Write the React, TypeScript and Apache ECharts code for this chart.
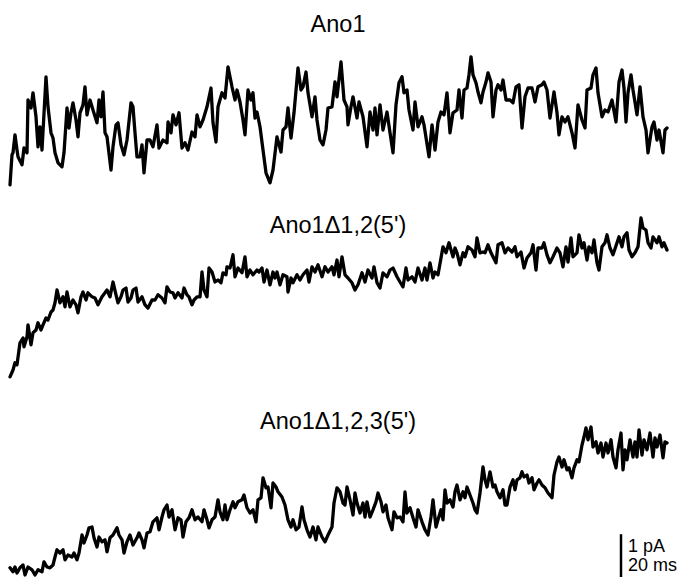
import React, { useEffect, useRef } from "react";
import * as echarts from "echarts";

// Titles of the three recordings
const traceTitles = ["Ano1", "Ano1\u03941,2(5')", "Ano1\u03941,2,3(5')"];

// Scale bar labels
const scaleLabels = ["1 pA", "20 ms"];

// Ano1 trace: [time (ms), current (pA)]
const ano1: number[][] = [
  [0,0.13],[2,0.88],[3,0.93],[5,1.38],[7,1.0],[8,0.83],[12,0.63],[14,1.05],[17,0.93],[18,2.25],
  [21,2.05],[23,2.43],[26,1.83],[28,1.08],[30,1.58],[32,1.0],[36,2.83],[38,2.08],[41,1.43],[43,1.3],
  [45,0.93],[48,0.68],[52,0.58],[54,0.93],[57,2.05],[59,1.55],[61,1.93],[63,2.18],[66,1.75],[68,1.33],
  [70,1.93],[73,2.13],[75,2.58],[77,1.88],[80,2.25],[83,2.0],[87,1.68],[89,2.25],[91,1.83],[93,2.45],
  [95,1.43],[97,1.33],[101,0.5],[103,1.08],[106,1.63],[108,1.68],[111,1.13],[114,0.88],[117,1.25],[121,2.18],
  [123,2.08],[125,1.43],[127,0.83],[130,0.83],[132,1.13],[134,0.43],[137,1.25],[140,1.25],[143,1.08],[147,1.63],
  [149,1.05],[153,1.25],[157,1.18],[158,1.7],[161,1.43],[163,1.88],[166,1.63],[169,1.93],[172,1.05],[175,1.18],
  [178,1.0],[182,1.45],[185,1.33],[187,1.88],[190,1.58],[193,1.75],[197,2.08],[201,2.55],[203,1.68],[206,1.2],
  [208,2.08],[212,2.43],[215,2.3],[218,3.08],[222,2.58],[225,2.25],[227,2.5],[230,2.2],[233,1.75],[235,1.38],
  [238,2.5],[241,2.25],[243,2.43],[245,1.8],[247,1.95],[250,1.58],[253,1.0],[256,0.43],[260,0.18],[263,0.5],
  [267,1.33],[271,0.95],[273,1.5],[276,1.58],[278,2.05],[281,1.3],[284,1.93],[288,3.05],[291,2.5],[293,2.58],
  [296,2.95],[298,2.43],[302,1.83],[305,2.33],[307,1.75],[310,1.25],[313,1.13],[316,1.5],[318,2.05],[322,2.08],
  [325,2.7],[327,2.33],[331,3.2],[334,2.25],[337,2.08],[338,1.63],[341,2.08],[343,2.33],[347,1.8],[349,2.2],
  [353,1.83],[357,1.08],[360,1.95],[363,1.5],[365,2.05],[367,1.38],[370,2.13],[373,1.5],[377,1.95],[380,1.43],
  [383,0.93],[386,2.13],[389,2.68],[392,2.83],[394,2.43],[397,2.5],[399,2.0],[403,1.5],[405,2.2],[408,1.58],
  [412,1.83],[414,1.63],[419,0.83],[422,1.63],[425,1.0],[428,1.7],[431,1.95],[434,1.88],[437,2.43],[440,1.43],
  [443,1.93],[447,2.0],[449,2.5],[452,1.8],[454,2.5],[457,2.55],[459,2.88],[461,3.33],[463,2.88],[466,2.68],
  [468,2.45],[471,2.18],[473,2.45],[476,2.7],[478,2.93],[481,2.7],[483,1.83],[486,2.5],[488,2.63],[491,2.5],
  [493,2.75],[496,2.25],[500,2.25],[503,2.18],[506,2.58],[509,2.63],[512,1.55],[515,2.33],[518,2.55],[522,2.55],
  [525,2.2],[528,2.58],[532,2.63],[534,2.7],[537,2.5],[540,1.8],[544,2.45],[547,1.93],[549,1.38],[552,1.83],
  [555,1.7],[558,1.83],[562,1.43],[565,1.05],[568,2.13],[572,1.75],[575,1.55],[577,2.5],[581,2.55],[583,2.88],
  [586,3.05],[588,2.43],[592,1.83],[595,2.0],[598,1.95],[602,2.25],[606,1.7],[609,2.7],[612,3.0],[614,2.55],
  [616,1.7],[618,2.43],[621,2.88],[623,2.5],[627,1.88],[630,2.58],[633,1.83],[636,1.5],[638,0.93],[642,1.58],
  [644,1.7],[647,1.25],[649,1.5],[653,0.93],[655,1.5],[657,1.55]
];

// Ano1Δ1,2(5') trace
const ano1d12: number[][] = [
  [0,0.33],[3,0.5],[5,0.68],[7,0.63],[10,1.18],[13,1.3],[14,1.08],[17,1.33],[18,1.63],[21,1.13],
  [23,1.43],[26,1.5],[28,1.68],[31,1.5],[33,1.63],[36,1.8],[38,1.75],[41,1.95],[43,2.0],[45,2.18],
  [47,2.5],[50,2.18],[53,2.33],[55,2.08],[57,2.45],[60,2.08],[63,2.25],[66,2.13],[68,1.93],[71,2.33],
  [73,2.45],[76,2.25],[78,2.43],[82,2.33],[85,2.3],[88,2.13],[92,2.33],[95,2.43],[97,2.5],[100,2.33],
  [103,2.7],[106,2.38],[108,2.18],[111,2.33],[113,2.5],[116,2.55],[118,2.2],[121,2.3],[123,2.5],[126,2.55],
  [128,2.2],[132,2.33],[135,2.13],[138,2.05],[142,2.25],[145,2.25],[148,2.38],[152,2.3],[155,2.18],[157,2.58],
  [160,2.45],[163,2.43],[165,2.3],[168,2.43],[172,2.3],[174,2.55],[177,2.38],[179,2.33],[182,2.13],[184,2.25],
  [187,2.33],[190,2.33],[192,2.95],[194,2.5],[197,2.33],[199,3.05],[202,2.95],[205,2.7],[208,2.75],[211,2.68],
  [213,2.93],[216,2.88],[217,3.08],[220,3.05],[223,3.38],[225,2.83],[228,3.05],[232,2.93],[235,3.33],[237,2.83],
  [240,3.0],[243,2.88],[247,3.0],[249,2.95],[252,3.05],[254,2.7],[257,3.0],[260,2.63],[263,2.95],[265,2.8],
  [267,2.95],[270,2.63],[273,2.88],[277,2.83],[278,2.45],[281,2.8],[283,2.68],[287,2.88],[290,2.75],[293,2.88],
  [297,3.0],[299,2.7],[302,3.08],[305,2.95],[308,3.13],[312,2.83],[315,3.08],[318,2.95],[322,3.08],[324,2.88],
  [327,3.25],[329,2.83],[332,3.33],[335,2.88],[338,2.8],[342,2.68],[345,2.5],[348,2.63],[352,2.93],[355,2.7],
  [358,3.0],[362,2.8],[364,3.08],[367,2.68],[370,2.55],[373,2.93],[377,2.83],[380,3.0],[383,3.05],[387,2.83],
  [390,2.7],[393,2.58],[396,3.05],[398,2.75],[402,2.83],[405,2.7],[408,3.05],[412,2.75],[415,3.05],[417,2.75],
  [420,3.18],[423,2.8],[425,2.95],[428,2.88],[431,3.3],[433,3.58],[436,3.43],[439,3.68],[443,3.33],[445,3.55],
  [447,3.43],[450,3.13],[453,3.43],[455,3.33],[458,3.58],[462,3.5],[465,3.33],[467,3.8],[470,3.43],[473,3.45],
  [475,3.43],[478,3.63],[481,3.43],[483,3.33],[486,3.18],[488,3.63],[492,3.68],[495,3.43],[498,3.55],[502,3.45],
  [505,3.58],[507,3.33],[511,3.45],[514,3.05],[517,3.3],[521,3.43],[523,3.63],[526,3.0],[528,3.55],[532,3.55],
  [534,3.68],[537,3.38],[540,3.18],[543,3.33],[547,3.55],[550,3.43],[553,3.08],[556,3.58],[558,3.2],[561,3.8],
  [563,3.33],[567,3.43],[569,3.88],[572,3.55],[574,3.68],[577,3.25],[579,3.58],[582,3.43],[584,3.75],[587,3.18],
  [589,3.0],[592,3.58],[595,3.68],[597,3.88],[600,3.55],[603,3.38],[607,3.68],[609,3.83],[612,3.58],[614,3.83],
  [617,3.93],[619,3.5],[622,3.33],[625,3.43],[628,3.58],[631,4.3],[633,4.05],[636,4.0],[638,3.68],[641,3.55],
  [643,3.83],[647,3.68],[649,3.83],[652,3.58],[654,3.68],[657,3.5]
];

// Ano1Δ1,2,3(5') trace
const ano1d123: number[][] = [
  [0,0.23],[3,0.13],[5,0.25],[7,0.1],[10,0.23],[13,0.3],[15,0.05],[18,0.25],[22,0.18],[25,0.05],
  [28,0.18],[32,0.13],[34,0.38],[37,0.25],[40,0.23],[43,0.3],[45,0.5],[47,0.68],[50,0.6],[53,0.68],
  [55,0.43],[58,0.55],[62,0.5],[64,0.6],[67,0.43],[69,0.6],[72,1.05],[74,0.85],[77,1.05],[79,1.23],
  [82,1.25],[84,0.98],[87,0.75],[89,1.0],[92,0.88],[95,0.93],[97,0.63],[100,0.98],[103,1.05],[107,1.23],
  [109,1.05],[112,0.93],[114,0.6],[117,0.88],[120,1.05],[123,0.8],[127,0.98],[129,1.1],[132,0.93],[134,0.73],
  [137,1.1],[140,1.13],[143,1.38],[147,1.48],[149,1.18],[152,1.5],[154,1.68],[157,1.8],[159,1.5],[162,1.68],
  [165,1.18],[168,1.48],[171,1.43],[173,1.0],[176,1.38],[179,1.48],[182,1.68],[185,1.43],[188,1.5],[192,1.38],
  [194,1.68],[197,1.43],[199,1.23],[202,1.43],[205,1.5],[208,1.93],[210,1.63],[213,1.43],[215,1.8],[217,1.43],
  [220,1.68],[223,1.88],[225,1.73],[228,1.88],[232,1.93],[234,2.05],[237,1.73],[240,1.6],[243,1.68],[246,1.38],
  [248,1.93],[251,1.98],[253,2.48],[256,2.23],[258,2.25],[261,1.73],[263,2.35],[266,2.25],[268,2.13],[272,2.0],
  [275,1.8],[278,1.43],[281,1.25],[283,1.43],[286,1.18],[289,1.25],[292,1.75],[294,1.43],[297,1.18],[300,1.0],
  [303,1.25],[306,0.93],[308,1.25],[312,1.0],[315,0.88],[318,1.05],[322,1.25],[324,1.85],[327,2.23],[330,2.13],
  [333,1.85],[335,1.8],[337,2.25],[340,1.93],[343,1.55],[345,2.1],[347,1.85],[350,1.6],[353,1.85],[355,1.5],
  [357,1.88],[360,1.5],[363,1.68],[366,1.88],[368,2.1],[371,1.88],[373,1.63],[376,1.8],[378,1.48],[382,1.18],
  [384,1.63],[387,1.48],[390,1.5],[393,1.38],[395,2.13],[397,1.6],[400,1.73],[403,1.48],[406,1.25],[408,1.68],
  [412,1.38],[415,1.18],[418,1.05],[421,1.5],[423,1.93],[426,1.25],[428,1.43],[431,1.68],[433,1.43],[435,2.18],
  [437,1.85],[440,1.93],[443,1.75],[445,2.13],[447,2.3],[450,1.93],[453,2.13],[455,1.98],[457,2.25],[460,2.05],
  [463,1.85],[465,1.68],[467,1.6],[470,2.1],[473,2.75],[475,2.43],[477,2.25],[480,2.63],[483,2.25],[485,2.3],
  [487,2.13],[490,1.98],[493,2.18],[495,1.8],[497,1.8],[500,2.25],[503,2.43],[505,2.18],[507,2.43],[510,2.48],
  [512,2.63],[514,2.5],[517,2.55],[519,2.35],[522,2.48],[524,2.18],[527,2.35],[529,2.43],[532,2.3],[535,2.23],
  [538,2.1],[542,1.98],[544,2.55],[547,2.88],[549,3.0],[552,2.75],[554,2.93],[557,2.68],[559,2.73],[562,2.48],
  [564,2.73],[567,2.93],[569,2.88],[572,3.3],[574,3.5],[576,3.73],[578,3.43],[581,3.75],[583,3.25],[586,3.38],
  [588,3.1],[591,3.35],[593,3.0],[596,3.35],[598,3.1],[601,3.43],[603,3.0],[606,2.73],[608,3.18],[611,3.6],
  [613,2.68],[615,3.18],[617,2.93],[620,3.43],[623,3.0],[625,3.38],[627,3.0],[629,3.68],[632,3.05],[634,3.43],
  [637,3.18],[640,3.6],[643,3.0],[645,3.48],[647,3.25],[650,3.55],[653,2.98],[655,3.38],[657,3.35]
];

// Vertical scale bar: 1 pA, drawn in the bottom panel's units
const scaleBar: number[][] = [[611, 0], [611, 1.07]];

const traces = [ano1, ano1d12, ano1d123];

export default function App() {
  const ref = useRef<HTMLDivElement>(null);

  useEffect(() => {
    document.body.style.margin = "0";
    if (!ref.current) return;
    const chart = echarts.init(ref.current, undefined, { renderer: "svg" });

    const panels = [
      { top: 50, height: 140, max: 3.5 },
      { top: 210, height: 180, max: 4.5 },
      { top: 417, height: 160, max: 4 },
    ];
    const titleY = [24, 225, 421];

    const grid = panels.map((p) => ({ left: 10, width: 657, top: p.top, height: p.height }));
    const xAxis = panels.map((_, i) => ({
      type: "value" as const, gridIndex: i, min: 0, max: 657, show: false,
    }));
    const yAxis = panels.map((p, i) => ({
      type: "value" as const, gridIndex: i, min: 0, max: p.max, show: false,
    }));

    const series: any[] = traces.map((data, i) => ({
      type: "line",
      xAxisIndex: i,
      yAxisIndex: i,
      data,
      showSymbol: false,
      clip: false,
      lineStyle: { color: "#000", width: 3.3, join: "round", cap: "round" },
    }));
    series.push({
      type: "line",
      xAxisIndex: 2,
      yAxisIndex: 2,
      data: scaleBar,
      showSymbol: false,
      clip: false,
      lineStyle: { color: "#000", width: 2.5 },
    });

    const font = "Liberation Sans, Arial, Helvetica, sans-serif";
    const graphic: any[] = traceTitles.map((t, i) => ({
      type: "text",
      x: 338,
      y: titleY[i],
      style: {
        text: t, fill: "#000", fontSize: 23.5, fontFamily: font,
        align: "center", verticalAlign: "middle",
      },
    }));
    graphic.push({
      type: "text", x: 628, y: 546,
      style: { text: scaleLabels[0], fill: "#000", fontSize: 18, fontFamily: font, align: "left", verticalAlign: "middle" },
    });
    graphic.push({
      type: "text", x: 628, y: 565,
      style: { text: scaleLabels[1], fill: "#000", fontSize: 18, fontFamily: font, align: "left", verticalAlign: "middle" },
    });

    chart.setOption({
      animation: false,
      backgroundColor: "#fff",
      grid,
      xAxis,
      yAxis,
      series,
      graphic,
    });

    return () => chart.dispose();
  }, []);

  return <div ref={ref} style={{ width: 679, height: 577 }} />;
}
